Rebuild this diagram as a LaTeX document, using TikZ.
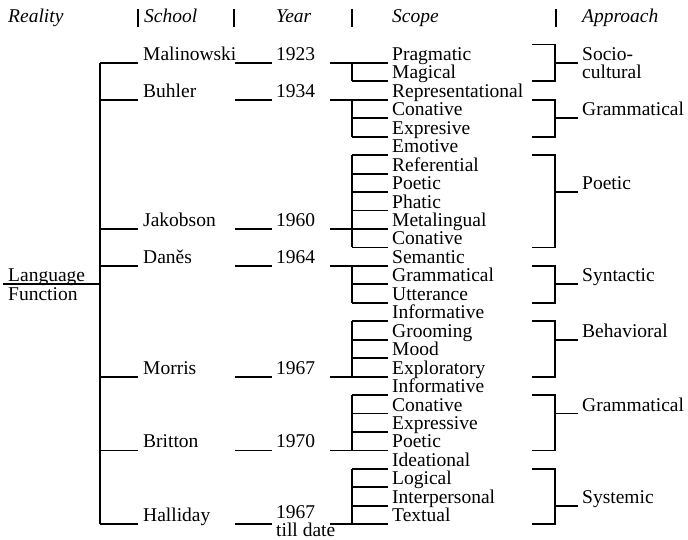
\documentclass[tikz,border=0pt]{standalone}
\usepackage{fontspec}
\setmainfont{Liberation Serif}
\newcommand\bnd[1]{(44.5+18.45*(#1))}
\newcommand\rowbl[1]{(44.5+18.45*(#1+1)-2.5)}
\begin{document}
\begin{tikzpicture}[x=1pt,y=-1pt,
  lab/.style={anchor=base west,inner sep=0pt,font=\fontsize{19.5}{20}\selectfont},
  hdr/.style={anchor=base west,inner sep=0pt,font=\fontsize{19.5}{20}\selectfont\itshape},
  ln/.style={line width=1.8pt},
  hbar/.style={line width=2pt}]
\useasboundingbox (0,0) rectangle (688,540);
% headers
\node[hdr] (hR) at (8,23) {Reality};
\node[hdr] (hS) at (144,23) {School};
\node[hdr] (hY) at (276,23) {Year};
\node[hdr] (hC) at (392,23) {Scope};
\node[hdr] (hA) at (582,23) {Approach};
\foreach \x/\n in {138/1,234/2,352/3,556/4} {
  \coordinate (bt\n) at (\x,9);
  \coordinate (bb\n) at (\x,27);
  \draw[hbar] (bt\n) -- (bb\n);
}
% scope items
\foreach \t [count=\i from 0] in {Pragmatic,Magical,Representational,Conative,Expresive,Emotive,Referential,Poetic,Phatic,Metalingual,Conative,Semantic,Grammatical,Utterance,Informative,Grooming,Mood,Exploratory,Informative,Conative,Expressive,Poetic,Ideational,Logical,Interpersonal,Textual}{
  \node[lab] (s\i) at (392,{\rowbl{\i}}) {\t};
  \draw[ln] ([shift={(-40,2.5)}]s\i.base west) -- ([shift={(-4,2.5)}]s\i.base west);
}
% left brackets
\foreach \f/\l in {0/1,2/4,5/10,11/13,14/17,18/21,22/25}
  \draw[ln] ([shift={(-40,2.5)}]s\f.base west) -- ([shift={(-40,2.5)}]s\l.base west);
% right brackets
\foreach \t/\b/\s in {0/2/1,3/5/4,6/11/8,12/14/13,15/18/16,19/22/20,23/26/25}
  \draw[ln] (532,{\bnd{\t}}) -- (555,{\bnd{\t}}) -- (555,{\bnd{\b}}) -- (532,{\bnd{\b}})
            (555,{\bnd{\s}}) -- (578,{\bnd{\s}});
% approaches
\node[lab] (a1) at (582,{\rowbl{0}}) {Socio-};
\node[lab] (a1b) at (582,{\rowbl{1}}) {cultural};
\node[lab] (a2) at (582,{\rowbl{3}}) {Grammatical};
\node[lab] (a3) at (582,{\rowbl{7}}) {Poetic};
\node[lab] (a4) at (582,{\rowbl{12}}) {Syntactic};
\node[lab] (a5) at (582,{\rowbl{15}}) {Behavioral};
\node[lab] (a6) at (582,{\rowbl{19}}) {Grammatical};
\node[lab] (a7) at (582,{\rowbl{24}}) {Systemic};
% schools and years
\foreach \r/\n/\y/\o [count=\j] in {0/Malinowski/1923/0,2/Buhler/1934/0,9/Jakobson/1960/0,11/Daněs/1964/0,17/Morris/1967/0,21/Britton/1970/0,25/Halliday/1967/3}{
  \node[lab] (sch\j) at (143,{\rowbl{\r}}) {\n};
  \node[lab] (yr\j) at (276,{\rowbl{\r}-\o}) {\y};
  \coordinate (tr\j) at (100,{\bnd{\r+1}});
  \coordinate (sl\j) at (138,{\bnd{\r+1}});
  \coordinate (ya\j) at (235,{\bnd{\r+1}});
  \coordinate (yb\j) at (272,{\bnd{\r+1}});
  \coordinate (ia\j) at (330,{\bnd{\r+1}});
  \coordinate (ib\j) at (352,{\bnd{\r+1}});
  \draw[ln] (tr\j) -- (sl\j);
  \draw[ln] (ya\j) -- (yb\j);
  \draw[ln] (ia\j) -- (ib\j);
}
\node[lab] (till) at (276,536.5) {till date};
% trunk
\draw[ln] (tr1) -- (tr7);
% root
\node[lab] (lang) at (8,{\rowbl{12}}) {Language};
\node[lab] (func) at (8,{\rowbl{13}}) {Function};
\coordinate (lf) at (3,{\bnd{13}});
\coordinate (lt) at (100,{\bnd{13}});
\draw[ln] (lf) -- (lt);
\end{tikzpicture}
\end{document}
